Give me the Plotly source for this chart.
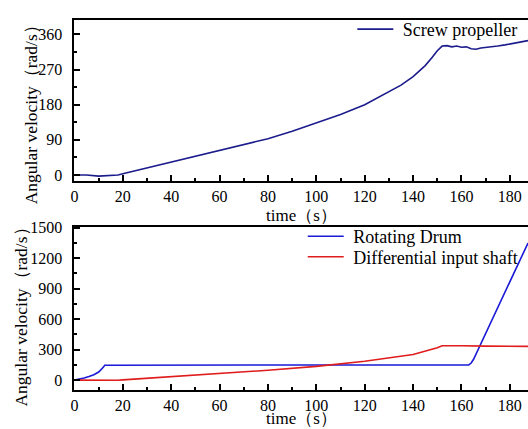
import plotly.graph_objects as go

# ---- data ----
t_screw = [0, 5, 10, 15, 18, 20, 30, 40, 50, 60, 70, 80, 90, 100, 110, 120, 130, 135, 140,
           145, 148, 150, 152, 154, 156, 158, 160, 162, 164, 166, 168, 170, 172, 175, 178,
           180, 183, 185, 187.5]
w_screw = [0, 0, -3, -1, 0, 3, 18, 34, 48, 63, 78, 93, 112, 133, 155, 180, 212, 230, 252,
           280, 302, 318, 330, 331, 328, 330, 327, 328, 323, 322, 325, 326, 328, 330, 333,
           335, 338, 340, 344]

t_drum = [0, 2, 4, 6, 8, 10, 11, 12, 12.5, 162, 163, 164, 165, 187.5]
w_drum = [0, 8, 20, 35, 53, 80, 100, 128, 147, 147, 150, 168, 205, 1350]

t_diff = [0, 10, 18, 20, 40, 60, 80, 100, 105, 120, 140, 145, 150, 152, 155, 160, 170,
          180, 187.5]
w_diff = [0, -3, -2, 2, 33, 63, 97, 135, 147, 185, 252, 283, 318, 338, 340, 338, 335,
          334, 332]

FONT = "Liberation Serif, Times New Roman, serif"
W, H = 528, 429
NB = "\u00a0"

def px_x(p):
    return p / W

def px_y(p):
    return 1 - p / H

fig = go.Figure()
fig.add_trace(go.Scatter(x=t_screw, y=w_screw, mode="lines", name=NB + "Screw propeller",
                         line=dict(color="#1c1c8c", width=1.6), xaxis="x", yaxis="y",
                         legend="legend"))
fig.add_trace(go.Scatter(x=t_drum, y=w_drum, mode="lines", name=NB + "Rotating Drum",
                         line=dict(color="#1a1ad8", width=1.6), xaxis="x2", yaxis="y2",
                         legend="legend2"))
fig.add_trace(go.Scatter(x=t_diff, y=w_diff, mode="lines", name=NB + "Differential input shaft",
                         line=dict(color="#e01c1c", width=1.6), xaxis="x2", yaxis="y2",
                         legend="legend3"))

axis_common = dict(showgrid=False, zeroline=False, showline=True, linecolor="black",
                   linewidth=2, ticks="inside", ticklen=6, tickwidth=1.5, tickcolor="black",
                   tickfont=dict(family=FONT, size=16, color="black"))

xdom = [px_x(71), 1.0]
leg_common = dict(xanchor="left", yanchor="middle", bgcolor="rgba(0,0,0,0)",
                  font=dict(family=FONT, size=18, color="black"), itemwidth=36)
fig.update_layout(
    width=W, height=H, margin=dict(l=0, r=0, t=0, b=0),
    paper_bgcolor="white", plot_bgcolor="white",
    xaxis=dict(domain=xdom, range=[0, 187.5], dtick=20, anchor="y", mirror=True,
               minor=dict(dtick=10, ticks="inside", ticklen=3, tickwidth=1.5, tickcolor="black"),
               ticklabelstandoff=0, **axis_common),
    yaxis=dict(domain=[px_y(178), px_y(13)], range=[-15, 397.5], tickvals=[0, 90, 180, 270, 360],
               anchor="x",
               minor=dict(tickvals=[45, 135, 225, 315], ticks="inside", ticklen=3, tickwidth=1.5,
                          tickcolor="black"),
               ticklabelstandoff=7, **axis_common),
    xaxis2=dict(domain=xdom, range=[0, 187.5], dtick=20, anchor="y2", mirror=True,
                minor=dict(dtick=10, ticks="inside", ticklen=3, tickwidth=1.5, tickcolor="black"),
                ticklabelstandoff=0, **axis_common),
    yaxis2=dict(domain=[px_y(392), px_y(225)], range=[-96, 1510],
                tickvals=[0, 300, 600, 900, 1200, 1500], anchor="x2",
                minor=dict(tickvals=[150, 450, 750, 1050, 1350], ticks="inside", ticklen=3,
                           tickwidth=1.5, tickcolor="black"),
                ticklabelstandoff=7, **axis_common),
    legend=dict(x=px_x(351), y=px_y(23), **leg_common),
    legend2=dict(x=px_x(301), y=px_y(235), **leg_common),
    legend3=dict(x=px_x(301), y=px_y(256), **leg_common),
    showlegend=True,
)

ann_font = dict(family=FONT, size=17, color="black")
fig.add_annotation(text="time（s）", x=px_x(300), y=px_y(213), xref="paper", yref="paper",
                   showarrow=False, font=ann_font, xanchor="center", yanchor="middle")
fig.add_annotation(text="time（s）", x=px_x(300), y=px_y(421), xref="paper", yref="paper",
                   showarrow=False, font=ann_font, xanchor="center", yanchor="middle")
ylab_font = dict(family=FONT, size=17.5, color="black")
fig.add_annotation(text="Angular velocity（rad/s）", x=px_x(27), y=px_y(106), xref="paper",
                   yref="paper", showarrow=False, font=ylab_font, textangle=-90,
                   xanchor="center", yanchor="middle")
fig.add_annotation(text="Angular velocity（rad/s）", x=px_x(17), y=px_y(313), xref="paper",
                   yref="paper", showarrow=False, font=ylab_font, textangle=-90,
                   xanchor="center", yanchor="middle")

fig.write_html("out.html")
